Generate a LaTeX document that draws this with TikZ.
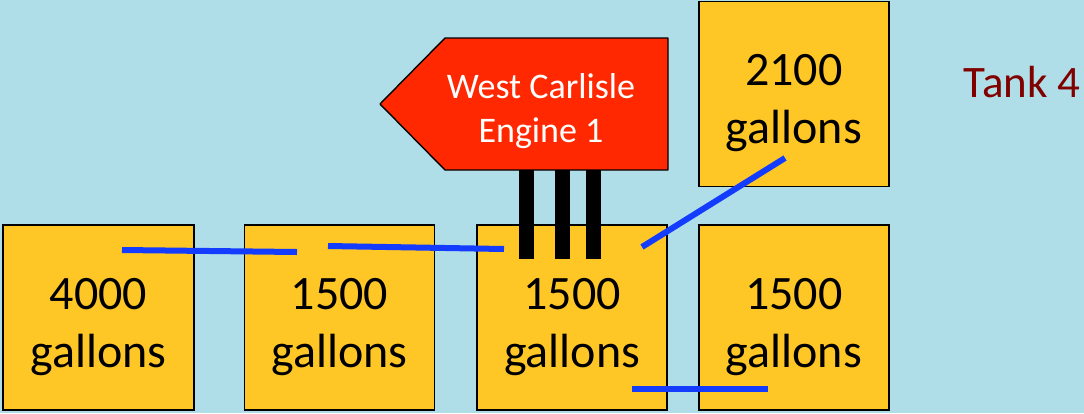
\documentclass[tikz,border=0pt]{standalone}
\usepackage{fontspec}
\setmainfont{Carlito}
\usetikzlibrary{positioning}
\definecolor{water}{RGB}{176,222,232}
\definecolor{tankfill}{RGB}{255,199,38}
\definecolor{signred}{RGB}{255,40,0}
\definecolor{hoseblue}{RGB}{20,60,255}
\definecolor{tanklabel}{RGB}{128,0,0}
\newcommand{\gal}[1]{\rule{0pt}{50bp}#1\\gallons}
\tikzset{
  tank/.style={
    draw, rectangle, align=center, fill=tankfill, line width=1.6bp,
    minimum width=190bp, minimum height=185bp, inner sep=0pt,
    font=\fontsize{48bp}{58bp}\selectfont
  },
  signtext/.style={
    align=center, text=white, inner sep=0pt,
    font=\fontsize{36bp}{44bp}\selectfont
  },
  hose/.style={hoseblue, line width=6bp},
  pipe/.style={black, line width=15bp},
}

\begin{document}
\begin{tikzpicture}[x=1bp, y=-1bp]
  \fill[water] (0,0) rectangle (1084,413);
  \useasboundingbox (0,0) rectangle (1084,413);

  % tanks on the ground
  \node[tank, minimum width=191bp] (t1) at (98.5,317.5) {\gal{4000}};
  \node[tank, right=49bp of t1] (t2) {\gal{1500}};
  \node[tank, right=41bp of t2] (t3) {\gal{1500}};
  \node[tank, right=30bp of t3] (t4) {\gal{1500}};
  \node[tank, above=37bp of t4] (t5) {\gal{2100}};
  \node[font=\fontsize{45bp}{54bp}\selectfont, text=tanklabel, anchor=east,
    inner sep=0pt] (tank4) at (1081,82) {Tank 4};

  % engine sign
  \draw[fill=signred, line width=1.4bp, line join=round]
    (380,104) -- (445,38) -- (668,38) -- (668,170) -- (445,170) -- cycle;
  \node[signtext] (engine) at (541,111) {West Carlisle\\Engine 1};
  \coordinate (signbase) at (562,170);
  \draw[pipe] ([xshift=-36bp]signbase) -- ([xshift=-36bp]signbase |- 0,259);
  \draw[pipe] (signbase) -- (signbase |- 0,259);
  \draw[pipe] ([xshift=31bp]signbase) -- ([xshift=31bp]signbase |- 0,259);

  % hoses
  \coordinate (h1) at (122,250);
  \coordinate (h2) at (297,252);
  \coordinate (h3) at (328,246);
  \coordinate (h4) at (504,249);
  \coordinate (h5) at (642,247);
  \coordinate (h6) at (785,158);
  \coordinate (h7) at (632,389);
  \coordinate (h8) at (768,389);
  \draw[hose] (h1) -- (h2);
  \draw[hose] (h3) -- (h4);
  \draw[hose] (h5) -- (h6);
  \draw[hose] (h7) -- (h8);
\end{tikzpicture}
\end{document}
